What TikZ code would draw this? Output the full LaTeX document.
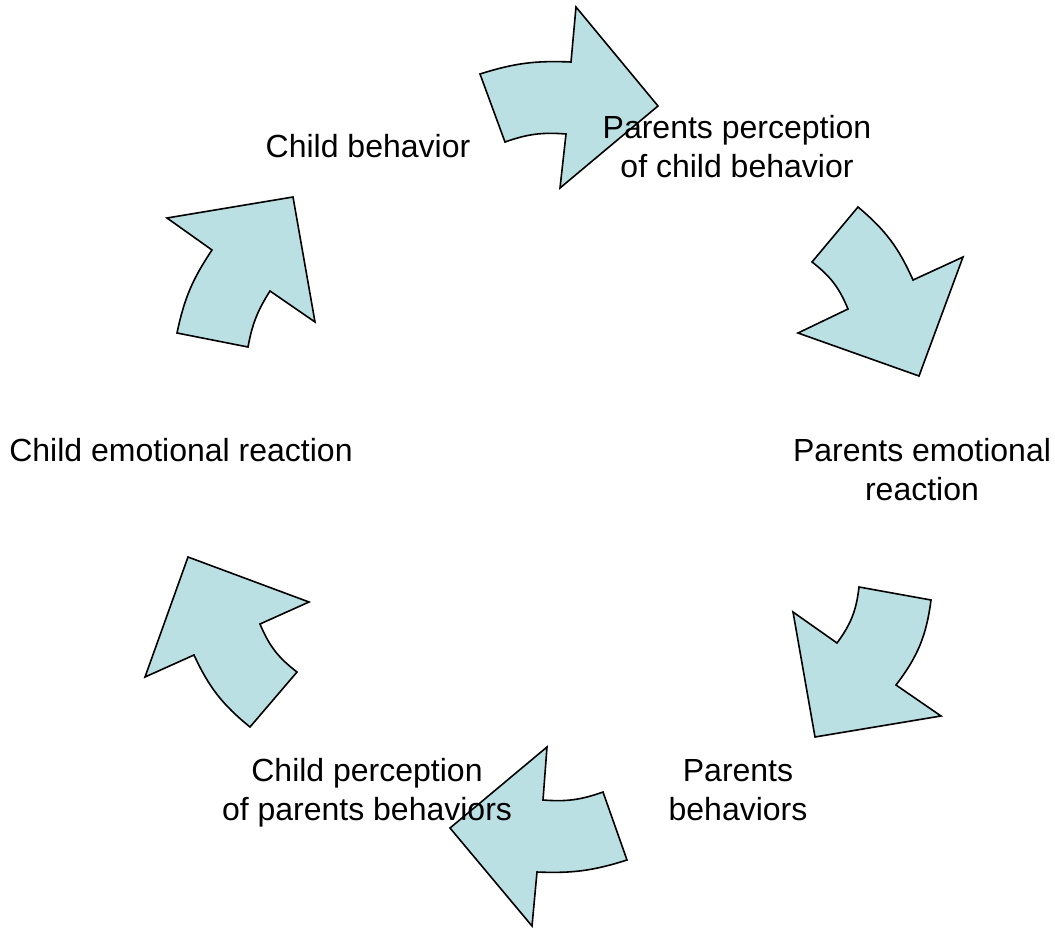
\documentclass[tikz,border=0pt]{standalone}
\usepackage{fontspec}
\setmainfont{Liberation Sans}
\definecolor{arrowfill}{RGB}{187,224,227}
\begin{document}
\begin{tikzpicture}[x=1pt,y=1pt,
  cyclearrow/.style={draw=black, fill=arrowfill, line width=1.6pt, line join=miter},
  lbl/.style={font=\fontsize{32}{39}\selectfont, align=center, inner sep=0pt, anchor=base}]
\useasboundingbox (0,0) rectangle (1055,-927);
\fill[white] (0,0) rectangle (1055,-927);
% arrow 1 (top, pointing right)
\draw[cyclearrow] (480,-74) to[bend left=10] (571,-62) -- (576,-7) -- (658,-106) -- (560,-188) -- (566,-134) to[bend right=12] (505,-142) -- cycle;
% arrow 2 (upper right)
\draw[cyclearrow] (858,-207) to[bend left=13] (913,-280) -- (963,-257) -- (919,-376) -- (798,-333) -- (848,-309) to[bend right=15] (812,-262) -- cycle;
% arrow 3 (lower right)
\draw[cyclearrow] (931,-600) to[bend left=15] (896,-685) -- (941,-716) -- (815,-737) -- (793,-612) -- (837,-643) to[bend right=15] (859,-587) -- cycle;
% arrow 4 (bottom, pointing left)
\draw[cyclearrow] (627,-860) to[bend left=10] (537,-872) -- (532,-926) -- (450,-828) -- (547,-747) -- (543,-800) to[bend right=12] (603,-792) -- cycle;
% arrow 5 (lower left)
\draw[cyclearrow] (250,-727) to[bend left=13] (194,-655) -- (145,-677) -- (188,-557) -- (309,-602) -- (260,-624) to[bend right=15] (297,-672) -- cycle;
% arrow 6 (upper left)
\draw[cyclearrow] (177,-333) to[bend left=11] (212,-250) -- (167,-218) -- (293,-197) -- (315,-322) -- (270,-291) to[bend right=11] (248,-347) -- cycle;
% labels
\node[lbl] (cb)  at (368,-157) {Child behavior};
\node[lbl] (ppc) at (737,-177) {Parents perception\\of child behavior};
\node[lbl] (per) at (922,-500) {Parents emotional\\reaction};
\node[lbl] (pb)  at (738,-820) {Parents\\behaviors};
\node[lbl] (cpp) at (367,-820) {Child perception\\of parents behaviors};
\node[lbl] (cer) at (181,-461) {Child emotional reaction};
\end{tikzpicture}
\end{document}
